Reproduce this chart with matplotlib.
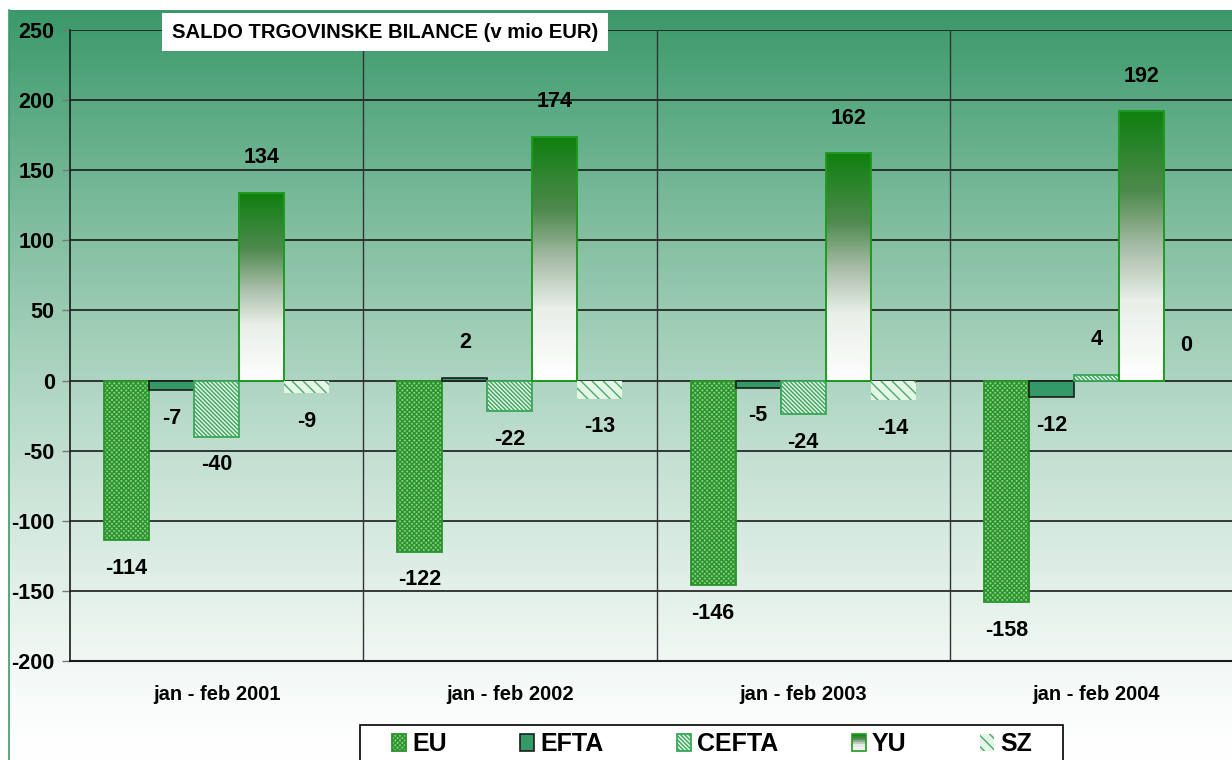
import matplotlib
matplotlib.use("Agg")
import matplotlib.pyplot as plt
import numpy as np
from matplotlib.colors import LinearSegmentedColormap
from matplotlib.patches import Patch, Rectangle
from matplotlib.legend_handler import HandlerBase

# ---------------------------------------------------------------------------
# Data (mio EUR)
# ---------------------------------------------------------------------------
periods = ["jan - feb 2001", "jan - feb 2002", "jan - feb 2003", "jan - feb 2004"]
regions = ["EU", "EFTA", "CEFTA", "YU", "SZ"]
eu = [-114, -122, -146, -158]
efta = [-7, 2, -5, -12]
cefta = [-40, -22, -24, 4]
yu = [134, 174, 162, 192]
sz = [-9, -13, -14, 0]
yticks = [-200, -150, -100, -50, 0, 50, 100, 150, 200, 250]

series = [eu, efta, cefta, yu, sz]

# ---------------------------------------------------------------------------
# Styles
# ---------------------------------------------------------------------------
plt.rcParams["font.family"] = ["Liberation Sans", "DejaVu Sans"]
plt.rcParams["font.weight"] = "bold"
plt.rcParams["hatch.linewidth"] = 1.0

styles = {
    "EU":    dict(facecolor="#86cc86", edgecolor="#2a942a", hatch="xxxxxxx", linewidth=1.3),
    "EFTA":  dict(facecolor="#339966", edgecolor="#1c1c1c", hatch=None, linewidth=1.2),
    "CEFTA": dict(facecolor="#e2f4e6", edgecolor="#3aa65a", hatch="\\" * 8, linewidth=1.3),
    "YU":    dict(facecolor="none", edgecolor="#1f9a1f", hatch=None, linewidth=1.4),
    "SZ":    dict(facecolor="#e4f6e6", edgecolor="#4aaa6a", hatch="\\\\\\", linewidth=0),
}

yu_cmap = LinearSegmentedColormap.from_list(
    "yu", [(0.0, "#0f800f"), (0.3, "#4f8a4f"), (0.5, "#a6bca6"),
           (0.7, "#e8eee8"), (1.0, "#ffffff")])

bg_top = np.array([58, 153, 106]) / 255.0


class HandlerGrad(HandlerBase):
    # YU legend key: stacked strips imitating the bar gradient
    def create_artists(self, legend, orig_handle, xdescent, ydescent,
                       width, height, fontsize, trans):
        arts = []
        n = 8
        for i in range(n):
            c = yu_cmap((i + 0.5) / n)
            r = Rectangle((-xdescent, -ydescent + height * (1 - (i + 1) / n)),
                          width, height / n, facecolor=c, edgecolor="none",
                          transform=trans)
            arts.append(r)
        arts.append(Rectangle((-xdescent, -ydescent), width, height,
                              facecolor="none", edgecolor="#1f9a1f", lw=1.2,
                              transform=trans))
        return arts


# ---------------------------------------------------------------------------
# Figure
# ---------------------------------------------------------------------------
W, H = 1232, 760
fig = plt.figure(figsize=(W / 100, H / 100), dpi=100)

# chart-area gradient background
bg = fig.add_axes([9 / W, 0, 1 - 9 / W, 750 / H], zorder=-10)
t = np.linspace(0, 1, 400)[:, None]
f = (1 - t) ** 1.3
grad = f[..., None] * bg_top + (1 - f[..., None]) * np.ones(3)
bg.imshow(np.repeat(grad, 2, axis=1), aspect="auto", extent=[0, 1, 0, 1])
bg.set_xlim(0, 1)
bg.set_ylim(0, 1)
bg.axis("off")
fig.add_artist(plt.Line2D([9 / W, 9 / W], [0, 750 / H], color="#3a9a6a", lw=1.2))

ax = fig.add_axes([70 / W, 99 / H, 1173 / W, 631 / H])
ax.patch.set_alpha(0)

x = np.arange(len(periods))
bw = 0.1535
for i, (name, vals) in enumerate(zip(regions, series)):
    st = styles[name]
    xs = x + (i - 2) * bw
    bars = ax.bar(xs, vals, width=bw, zorder=3, **st)
    if name == "YU":
        for rect in bars:
            x0 = rect.get_x()
            h = rect.get_height()
            im = ax.imshow(np.linspace(0, 1, 256)[:, None], cmap=yu_cmap,
                           extent=[x0, x0 + bw, 0, h], aspect="auto",
                           origin="upper", zorder=2.5)
            im.set_clip_path(rect)
    for xi, v in zip(xs, vals):
        off = 25 if v >= 0 else -20
        ax.text(xi, v + off, f"{v}", ha="center", va="center",
                fontsize=15.5, fontweight="bold", zorder=5)

ax.set_xlim(-0.5, len(periods) - 0.5)
ax.set_ylim(-200, 250)
ax.set_yticks(yticks)
ax.set_yticklabels([str(v) for v in yticks], fontsize=15.5, fontweight="bold")
ax.set_xticks(x)
ax.set_xticklabels(periods, fontsize=14.5, fontweight="bold")
ax.tick_params(axis="x", length=0, pad=17)
ax.tick_params(axis="y", length=6, width=1, color="#777777", pad=5)

for yv in yticks:
    ax.axhline(yv, color="#1a1a1a", lw=1.2, zorder=1)
for xv in x[:-1] + 0.5:
    ax.axvline(xv, color="#333333", lw=1.0, zorder=1)
for s in ["top", "right"]:
    ax.spines[s].set_visible(False)
ax.spines["left"].set_color("#1a1a1a")
ax.spines["bottom"].set_color("#1a1a1a")
ax.spines["left"].set_linewidth(1.2)
ax.spines["bottom"].set_linewidth(1.5)

# title box
fig.text(172 / W, 1 - 32 / H, "SALDO TRGOVINSKE BILANCE (v mio EUR)",
         fontsize=14.6, fontweight="bold", ha="left", va="center",
         bbox=dict(facecolor="white", edgecolor="none", pad=7))

# legend: frame drawn separately so the keys sit further in from the edges
fig.add_artist(Rectangle((360 / W, -10 / H), 703 / W, 45 / H,
                         transform=fig.transFigure, facecolor="white",
                         edgecolor="black", lw=1.2, zorder=5))
handles = []
for name in regions:
    if name == "YU":
        handles.append(Patch(label=name))
    else:
        handles.append(Patch(label=name, **styles[name]))
leg = fig.legend(handles=handles, labels=regions, ncol=5, loc="center left",
                 bbox_to_anchor=(392 / W, 1 - 744 / H, 640 / W, 0.0),
                 mode="expand", frameon=False,
                 prop=dict(size=18, weight="bold"),
                 handlelength=0.55, handleheight=0.7, handletextpad=0.25,
                 borderpad=0, borderaxespad=0,
                 handler_map={handles[3]: HandlerGrad()})
leg.set_zorder(6)

fig.savefig("out.png", dpi=100)
